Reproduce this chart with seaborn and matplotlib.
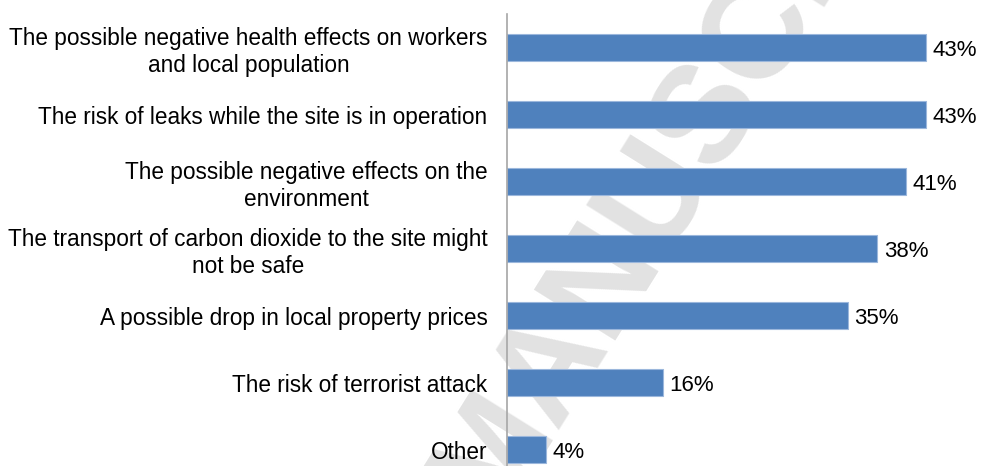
import numpy as np
import pandas as pd
import matplotlib.pyplot as plt
import seaborn as sns

# concerns about a CO2 storage site, share of respondents (%)
concerns = [
    "The possible negative health effects on workers\nand local population",
    "The risk of leaks while the site is in operation",
    "The possible negative effects on the\nenvironment",
    "The transport of carbon dioxide to the site might\nnot be safe",
    "A possible drop in local property prices",
    "The risk of terrorist attack",
    "Other",
]
shares = [43, 43, 41, 38, 35, 16, 4]

df = pd.DataFrame({"concern": concerns, "share": shares})

sns.set_style("white")
plt.rcParams["font.family"] = ["Liberation Sans", "DejaVu Sans"]

fig = plt.figure(figsize=(9.82, 4.66), dpi=100)
ax = fig.add_axes([507 / 982, -17 / 466, 475 / 982, 469 / 466])
ax.patch.set_alpha(0)

# faint watermark behind the chart
fig.text(708 / 982, 1 - 111 / 466, "MANUSCRIPT", rotation=58, rotation_mode="anchor",
         fontsize=100, fontweight="bold", color="#e2e2e2",
         ha="center", va="center", zorder=-5)

sns.barplot(data=df, y="concern", x="share", orient="h", color="#4f81bd",
            saturation=1, width=0.39, edgecolor="#9bb7dc", linewidth=0.8, ax=ax)

for i, v in enumerate(shares):
    ax.text(v + 0.7, i, f"{v}%", va="center_baseline", ha="left", fontsize=16, color="black")

ax.set_xlim(0, 48.8)
ax.set_ylim(6.5, -0.5)
ax.set_xlabel("")
ax.set_ylabel("")
ax.set_xticks([])
ax.tick_params(axis="y", length=0, pad=14, labelsize=16.3, labelcolor="black")
for lbl in ax.get_yticklabels():
    lbl.set_multialignment("center")

for s in ["top", "right", "bottom"]:
    ax.spines[s].set_visible(False)
ax.spines["left"].set_color("#a6a6a6")
ax.spines["left"].set_linewidth(1.2)

fig.savefig("out.png", dpi=100)
